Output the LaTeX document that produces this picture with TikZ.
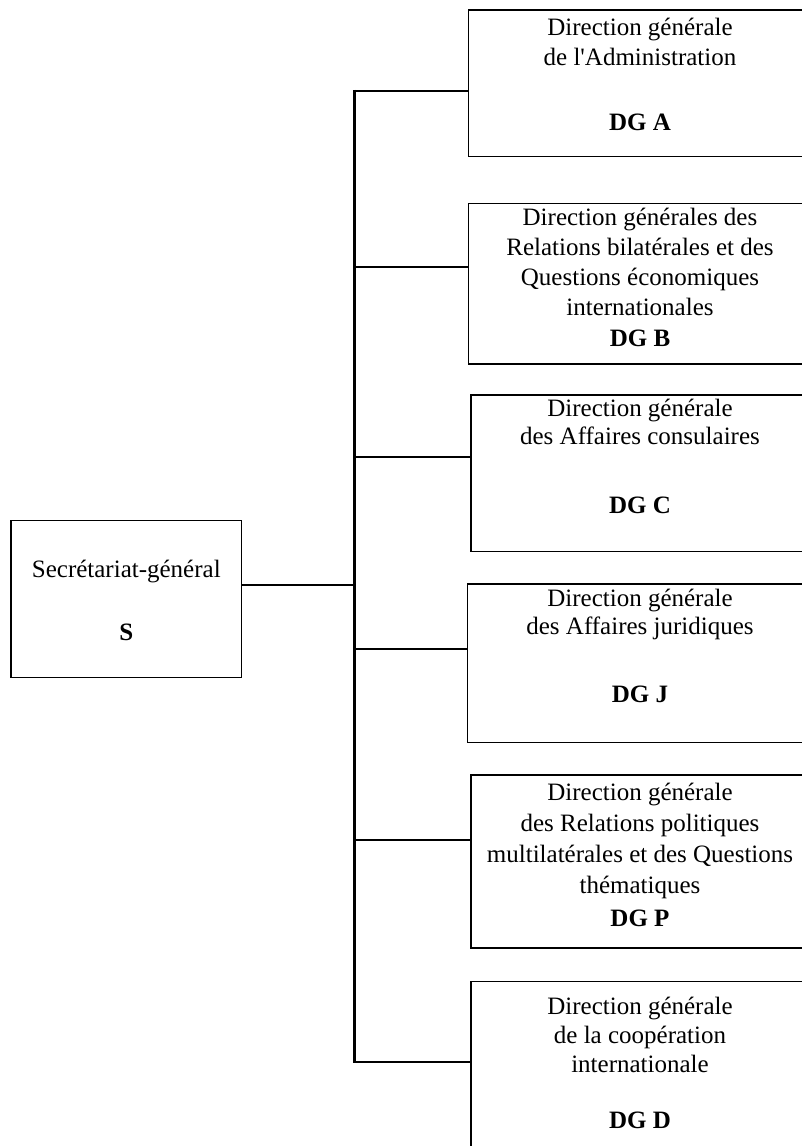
\documentclass[tikz,border=0pt]{standalone}
\usepackage{fontspec}
\setmainfont{Liberation Serif}[Ligatures=TeXOff]
\begin{document}
\begin{tikzpicture}[x=1pt,y=-1pt,
  box/.style={draw=black, line width=1.4pt, rectangle, inner sep=0pt, outer sep=0pt},
  txt/.style={anchor=base, inner sep=0pt, outer sep=0pt, font=\fontsize{25}{28.2}\selectfont},
  conn/.style={draw=black, line width=2.3pt, line cap=butt}]
\useasboundingbox (0,0) rectangle (802,1146);
% boxes
\node[box, minimum width=230.7pt, minimum height=156.6pt] (S) at (126.35,599) {};
\node[box, minimum width=343.7pt, minimum height=146.7pt] (A) at (640.15,83.35) {};
\node[box, minimum width=343.7pt, minimum height=160.7pt] (B) at (640.15,283.65) {};
\node[box, minimum width=341pt, minimum height=156.7pt] (C) at (641.5,473.35) {};
\node[box, minimum width=344.7pt, minimum height=158.7pt] (J) at (639.65,663.35) {};
\node[box, minimum width=341pt, minimum height=173pt] (P) at (641.5,861.5) {};
\node[box, minimum width=341pt, minimum height=178.5pt] (D) at (641.5,1070.75) {};
% texts
\node[txt] (tS) at (126.3,577.7) {\begin{tabular}[t]{@{}c@{}}Secrétariat-général\\[34.1pt]\textbf{S}\end{tabular}};
\node[txt] (tA) at (640,35) {\begin{tabular}[t]{@{}c@{}}Direction générale\\[1.8pt]de l'Administration\\[36.8pt]\textbf{DG A}\end{tabular}};
\node[txt] (tB) at (640,225) {\begin{tabular}[t]{@{}c@{}}Direction générales des\\[2.05pt]Relations bilatérales et des\\[2.05pt]Questions économiques\\[2.05pt]internationales\\[2.05pt]\textbf{DG B}\end{tabular}};
\node[txt] (tC) at (640,416) {\begin{tabular}[t]{@{}c@{}}Direction générale\\[0.3pt]des Affaires consulaires\\[40.6pt]\textbf{DG C}\end{tabular}};
\node[txt] (tJ) at (640,606) {\begin{tabular}[t]{@{}c@{}}Direction générale\\[0.3pt]des Affaires juridiques\\[40pt]\textbf{DG J}\end{tabular}};
\node[txt] (tP) at (640,800) {\begin{tabular}[t]{@{}c@{}}Direction générale\\[2.8pt]des Relations politiques\\[2.8pt]multilatérales et des Questions\\[2.8pt]thématiques\\[4.8pt]\textbf{DG P}\end{tabular}};
\node[txt] (tD) at (640,1014.3) {\begin{tabular}[t]{@{}c@{}}Direction générale\\[0.5pt]de la coopération\\[0.8pt]internationale\\[27.8pt]\textbf{DG D}\end{tabular}};
% bus
\coordinate (jS) at (354.5,585);
\coordinate (jA) at (354.5,91);
\coordinate (jB) at (354.5,266.7);
\coordinate (jC) at (354.5,457.3);
\coordinate (jJ) at (354.5,649);
\coordinate (jP) at (354.5,840);
\coordinate (jD) at (354.5,1061.7);
\draw[conn] ([yshift=1.15pt]jA) -- ([yshift=-1.15pt]jD);
\draw[conn] (jS -| S.east) -- (jS);
\draw[conn] (jA) -- (jA -| A.west);
\draw[conn] (jB) -- (jB -| B.west);
\draw[conn] (jC) -- (jC -| C.west);
\draw[conn] (jJ) -- (jJ -| J.west);
\draw[conn] (jP) -- (jP -| P.west);
\draw[conn] (jD) -- (jD -| D.west);
\end{tikzpicture}
\end{document}
